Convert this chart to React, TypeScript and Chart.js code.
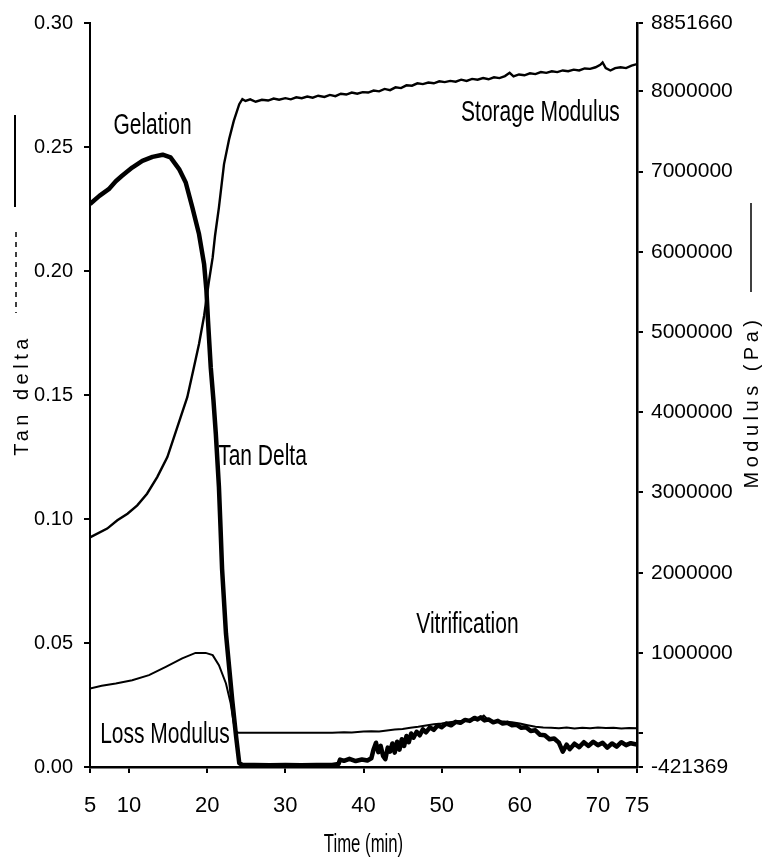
import React, { useEffect, useRef } from 'react';
import { Chart, registerables } from 'chart.js';

Chart.register(...registerables);

const SANS = "'Liberation Sans', Arial, sans-serif";

// Tan delta (left axis)
const tanTime = [5, 6.2, 7.4, 8.3, 9.1, 10.4, 11.7, 13.0, 14.3, 15.3, 16.4, 17.25, 18.1, 18.95, 19.6, 19.9, 20.1, 20.45, 20.8, 21.1, 21.3, 21.5, 21.7, 21.9, 22.4, 22.8, 23.2, 23.7, 24.1, 24.5, 26, 28, 30, 32, 34, 36, 36.8, 37.0, 37.5, 38.2, 39.0, 39.8, 40.5, 41.0, 41.3, 41.6, 41.9, 42.2, 42.5, 42.8, 43.1, 43.4, 43.7, 44.0, 44.3, 44.6, 44.9, 45.2, 45.5, 45.8, 46.1, 46.4, 46.8, 47.2, 47.6, 48.0, 48.5, 49.0, 49.5, 50.0, 50.6, 51.2, 51.8, 52.4, 53.0, 53.6, 54.2, 54.6, 55.0, 55.5, 56.0, 56.6, 57.2, 57.8, 58.4, 59.0, 59.6, 60.2, 60.8, 61.4, 62.0, 62.6, 63.2, 63.8, 64.4, 65.0, 65.5, 66.0, 66.4, 67.0, 67.6, 68.2, 68.8, 69.4, 70.0, 70.6, 71.2, 71.8, 72.4, 73.0, 73.6, 74.2, 75.0];
const tanDelta = [0.2270, 0.2303, 0.2330, 0.2362, 0.2384, 0.2417, 0.2444, 0.2460, 0.2469, 0.2458, 0.2411, 0.2357, 0.2256, 0.2149, 0.2028, 0.1921, 0.1800, 0.1612, 0.1478, 0.1344, 0.1236, 0.1129, 0.0968, 0.0800, 0.0538, 0.0404, 0.0270, 0.0122, 0.0016, 0.0008, 0.0008, 0.0007, 0.0008, 0.0007, 0.0008, 0.0008, 0.0012, 0.0030, 0.0025, 0.0033, 0.0024, 0.0030, 0.0026, 0.0035, 0.0072, 0.0098, 0.0060, 0.0085, 0.0045, 0.0032, 0.0078, 0.0062, 0.0095, 0.0058, 0.0102, 0.0070, 0.0112, 0.0085, 0.0125, 0.0100, 0.0135, 0.0118, 0.0142, 0.0128, 0.0152, 0.0140, 0.0160, 0.0150, 0.0168, 0.0160, 0.0175, 0.0168, 0.0182, 0.0178, 0.0190, 0.0186, 0.0198, 0.0192, 0.0200, 0.0188, 0.0192, 0.0180, 0.0186, 0.0175, 0.0178, 0.0168, 0.0170, 0.0158, 0.0160, 0.0145, 0.0148, 0.0130, 0.0128, 0.0112, 0.0115, 0.0098, 0.0062, 0.0090, 0.0072, 0.0094, 0.0080, 0.0100, 0.0085, 0.0102, 0.0088, 0.0098, 0.0078, 0.0095, 0.0082, 0.0100, 0.0088, 0.0096, 0.0090];

// Storage modulus, Pa (right axis)
const storageTime = [5, 7.2, 8.5, 9.8, 11.05, 12.3, 13.6, 14.9, 15.75, 16.6, 17.45, 18.3, 18.95, 19.6, 20.2, 20.7, 21.0, 21.5, 22.15, 22.8, 23.4, 24.1, 24.5, 24.9, 25.5, 26.2, 27.0, 27.8, 28.5, 29.2, 30.0, 30.7, 31.4, 32.1, 32.8, 33.5, 34.2, 35.0, 35.7, 36.4, 37.1, 37.8, 38.5, 39.2, 39.9, 40.6, 41.3, 42.0, 42.7, 43.4, 44.1, 44.8, 45.5, 46.2, 46.9, 47.6, 48.3, 49.0, 49.7, 50.4, 51.1, 51.8, 52.5, 53.2, 53.9, 54.6, 55.3, 56.0, 56.7, 57.4, 58.1, 58.7, 59.2, 59.9, 60.6, 61.3, 62.0, 62.7, 63.4, 64.1, 64.8, 65.5, 66.2, 66.9, 67.6, 68.3, 69.0, 69.7, 70.3, 70.6, 71.0, 71.6, 72.2, 72.9, 73.6, 74.3, 75.0];
const storageModulus = [2441000, 2550000, 2653000, 2736000, 2840000, 2985000, 3192000, 3441000, 3690000, 3939000, 4188000, 4561000, 4852000, 5200000, 5620000, 5930000, 6200000, 6553000, 7093000, 7404000, 7632000, 7840000, 7902000, 7880000, 7900000, 7870000, 7895000, 7885000, 7910000, 7895000, 7915000, 7900000, 7925000, 7915000, 7935000, 7920000, 7945000, 7930000, 7955000, 7940000, 7970000, 7960000, 7985000, 7970000, 7990000, 7985000, 8010000, 8000000, 8030000, 8015000, 8050000, 8040000, 8075000, 8070000, 8100000, 8090000, 8110000, 8100000, 8125000, 8115000, 8130000, 8120000, 8145000, 8130000, 8155000, 8145000, 8165000, 8150000, 8175000, 8165000, 8190000, 8230000, 8185000, 8210000, 8200000, 8225000, 8215000, 8240000, 8230000, 8250000, 8240000, 8260000, 8250000, 8270000, 8260000, 8285000, 8280000, 8300000, 8330000, 8360000, 8290000, 8260000, 8290000, 8300000, 8290000, 8320000, 8340000];

// Loss modulus, Pa (right axis)
const lossTime = [5, 6.5, 8.3, 10.4, 12.55, 14.7, 16.8, 18.5, 19.8, 20.7, 21.5, 22.4, 23.0, 23.4, 23.7, 24.0, 26, 28, 30, 32, 34, 36, 37.5, 38.5, 40, 41, 42, 43, 44, 45, 46, 47, 48, 49, 50, 51, 52, 53, 54, 54.8, 55.4, 56, 57, 58, 59, 60, 61, 62, 63, 64, 65, 66, 67, 68, 69, 70, 71, 72, 73, 74, 75];
const lossModulus = [558000, 590000, 620000, 661000, 724000, 827000, 932000, 1001000, 1001000, 973000, 848000, 620000, 372000, 122000, 19000, 5000, 5000, 4000, 5000, 5000, 4000, 6000, 12000, 8000, 20000, 25000, 22000, 35000, 45000, 52000, 68000, 80000, 95000, 110000, 120000, 135000, 150000, 155000, 165000, 175000, 220000, 160000, 150000, 145000, 135000, 120000, 100000, 80000, 70000, 68000, 62000, 70000, 60000, 68000, 62000, 70000, 64000, 68000, 60000, 66000, 62000];

// Tick values
const timeTicks = [5, 10, 20, 30, 40, 50, 60, 70, 75];
const tanTicks = [0, 0.05, 0.1, 0.15, 0.2, 0.25, 0.3];
const modulusTicks = [-421369, 0, 1000000, 2000000, 3000000, 4000000, 5000000, 6000000, 7000000, 8000000, 8851660];

// In-plot labels, placed in (time, tan delta) coordinates
const notes = [
  { text: 'Gelation', time: 13.0, tan: 0.2553, align: 'center' },
  { text: 'Storage Modulus', time: 72.8, tan: 0.2605, align: 'right' },
  { text: 'Tan Delta', time: 21.4, tan: 0.1216, align: 'left' },
  { text: 'Vitrification', time: 53.3, tan: 0.054, align: 'center' },
  { text: 'Loss Modulus', time: 6.3, tan: 0.0097, align: 'left' },
];

const pts = (xs: number[], ys: number[]) => xs.map((x, i) => ({ x, y: ys[i] }));

// narrow lettering: normal face squeezed horizontally
const drawCondensed = (ctx: CanvasRenderingContext2D, text: string, x: number, y: number, align: CanvasTextAlign, sx: number) => {
  ctx.save();
  ctx.translate(x, y);
  ctx.scale(sx, 1);
  ctx.textAlign = align;
  ctx.fillText(text, 0, 0);
  ctx.restore();
};

const decorations = {
  id: 'decorations',
  afterDraw(chart: any) {
    const { ctx, scales, chartArea } = chart;
    const xs = scales.x;
    const ys = scales.yTan;
    ctx.save();
    ctx.fillStyle = '#000';
    ctx.strokeStyle = '#000';
    ctx.textBaseline = 'alphabetic';

    // annotations inside the plot
    ctx.font = `30px ${SANS}`;
    for (const n of notes) {
      drawCondensed(ctx, n.text, xs.getPixelForValue(n.time), ys.getPixelForValue(n.tan), n.align as CanvasTextAlign, 0.7);
    }

    // x axis title
    ctx.font = `25px ${SANS}`;
    drawCondensed(ctx, 'Time (min)', (chartArea.left + chartArea.right) / 2, 852, 'center', 0.67);

    // rotated y axis titles
    ctx.font = `20px ${SANS}`;
    (ctx as any).letterSpacing = '4.5px';
    ctx.textAlign = 'center';
    ctx.save();
    ctx.translate(28, 395);
    ctx.rotate(-Math.PI / 2);
    ctx.fillText('Tan delta', 0, 0);
    ctx.restore();

    ctx.save();
    ctx.translate(758, 402);
    ctx.rotate(-Math.PI / 2);
    ctx.fillText('Modulus (Pa)', 0, 0);
    ctx.restore();
    (ctx as any).letterSpacing = '0px';

    // line-style keys beside the titles
    ctx.lineWidth = 2;
    ctx.beginPath();
    ctx.moveTo(15, 115);
    ctx.lineTo(15, 207);
    ctx.stroke();

    ctx.lineWidth = 1.5;
    ctx.setLineDash([5, 5]);
    ctx.beginPath();
    ctx.moveTo(16, 232);
    ctx.lineTo(16, 313);
    ctx.stroke();
    ctx.setLineDash([]);

    ctx.beginPath();
    ctx.moveTo(751, 203);
    ctx.lineTo(751, 292);
    ctx.stroke();

    ctx.restore();
  },
};

const axisGrid = { drawOnChartArea: false, drawTicks: true, tickLength: 6, color: '#000', lineWidth: 2 };

export default function App() {
  const ref = useRef<HTMLCanvasElement | null>(null);

  useEffect(() => {
    if (!ref.current) return;
    const chart = new Chart(ref.current, {
      type: 'line',
      data: {
        datasets: [
          {
            label: 'Tan Delta',
            data: pts(tanTime, tanDelta),
            yAxisID: 'yTan',
            borderColor: '#000',
            borderWidth: 4.5,
            pointRadius: 0,
            tension: 0,
            borderJoinStyle: 'round',
          },
          {
            label: 'Storage Modulus',
            data: pts(storageTime, storageModulus),
            yAxisID: 'yMod',
            borderColor: '#000',
            borderWidth: 2.4,
            pointRadius: 0,
            tension: 0,
          },
          {
            label: 'Loss Modulus',
            data: pts(lossTime, lossModulus),
            yAxisID: 'yMod',
            borderColor: '#000',
            borderWidth: 2,
            pointRadius: 0,
            tension: 0,
          },
        ],
      },
      options: {
        responsive: false,
        animation: false,
        devicePixelRatio: 1,
        layout: { padding: { top: 22, left: 0, right: 0, bottom: 0 } },
        plugins: { legend: { display: false }, tooltip: { enabled: false } },
        scales: {
          x: {
            type: 'linear',
            position: 'bottom',
            min: 5,
            max: 75,
            afterBuildTicks: (s: any) => { s.ticks = timeTicks.map((v) => ({ value: v })); },
            afterFit: (s: any) => { s.height = 96; },
            ticks: {
              autoSkip: false,
              maxRotation: 0,
              padding: 20,
              color: '#000',
              font: { family: SANS, size: 22 },
              callback: (v: any) => String(v),
            },
            grid: axisGrid,
            border: { display: true, color: '#000', width: 2.5 },
          },
          yTan: {
            type: 'linear',
            position: 'left',
            min: 0,
            max: 0.3,
            afterBuildTicks: (s: any) => { s.ticks = tanTicks.map((v) => ({ value: v })); },
            afterFit: (s: any) => { s.width = 90; },
            ticks: {
              autoSkip: false,
              padding: 11,
              color: '#000',
              font: { family: SANS, size: 20 },
              callback: (v: any) => Number(v).toFixed(2),
            },
            grid: axisGrid,
            border: { display: true, color: '#000', width: 2 },
          },
          yMod: {
            type: 'linear',
            position: 'right',
            min: -421369,
            max: 8851660,
            afterBuildTicks: (s: any) => { s.ticks = modulusTicks.map((v) => ({ value: v })); },
            afterFit: (s: any) => { s.width = 136; },
            ticks: {
              autoSkip: false,
              padding: 8,
              color: '#000',
              font: { family: SANS, size: 21 },
              callback: (v: any) => (v === 0 ? '' : String(v)),
            },
            grid: axisGrid,
            border: { display: true, color: '#000', width: 2.5 },
          },
        },
      },
      plugins: [decorations],
    } as any);
    return () => chart.destroy();
  }, []);

  return (
    <canvas
      ref={ref}
      width={773}
      height={863}
      style={{ position: 'absolute', left: 0, top: 0, width: 773, height: 863, background: '#fff' }}
    />
  );
}
